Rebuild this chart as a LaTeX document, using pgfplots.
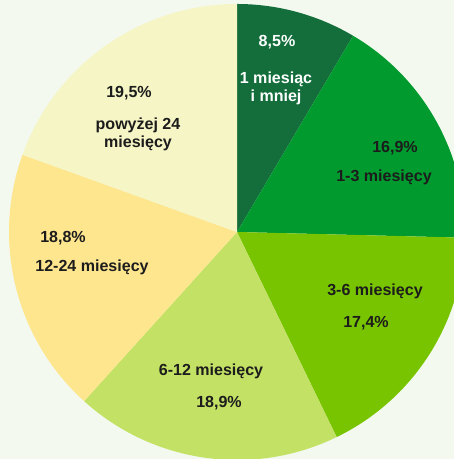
\documentclass[border=0pt]{standalone}
\usepackage{pgfplots}
\usepackage{pgfplotstable}
\pgfplotsset{compat=1.18}
\usepackage{fontspec}
\setmainfont{Liberation Sans}
\definecolor{bg}{HTML}{F3F9EE}
\definecolor{c1}{HTML}{146E3C}
\definecolor{c2}{HTML}{009A2E}
\definecolor{c3}{HTML}{78C400}
\definecolor{c4}{HTML}{C3E164}
\definecolor{c5}{HTML}{FEE68F}
\definecolor{c6}{HTML}{F6F5C5}
\definecolor{txt}{HTML}{1C1C1C}

\pgfplotstableread{
val col
8.5 c1
16.9 c2
17.4 c3
18.9 c4
18.8 c5
19.5 c6
}\piedata

\begin{document}
\begin{tikzpicture}[font=\fontsize{16.1}{18}\selectfont\bfseries]
\begin{axis}[x=1bp, y=1bp, hide axis, clip=true,
  xmin=-237, xmax=217, ymin=-227, ymax=232]
  \fill[bg] (axis cs:-237,-227) rectangle (axis cs:217,232);
  \def\cum{0}
  \pgfplotsforeachungrouped \i in {0,...,5}{%
    \pgfplotstablegetelem{\i}{val}\of\piedata \let\sliceval\pgfplotsretval
    \pgfplotstablegetelem{\i}{col}\of\piedata \let\slicecol\pgfplotsretval
    \pgfmathsetmacro\sa{90-3.6*\cum}%
    \pgfmathsetmacro\sb{90-3.6*(\cum+\sliceval)}%
    \edef\tmp{\noexpand\fill[\slicecol] (axis cs:0,0) -- ++(\sa:228bp) arc[start angle=\sa, end angle=\sb, radius=228bp] -- cycle;}%
    \tmp
    \pgfmathsetmacro\cum{\cum+\sliceval}%
  }
  \node[white] at (axis cs:40,190) {8,5\%};
  \node[white, align=center] at (axis cs:39,144) {1 miesiąc\\i mniej};
  \node[txt] at (axis cs:158,84) {16,9\%};
  \node[txt] at (axis cs:147,55) {1-3 miesięcy};
  \node[txt] at (axis cs:138,-59) {3-6 miesięcy};
  \node[txt] at (axis cs:129,-91) {17,4\%};
  \node[txt] at (axis cs:-26,-139) {6-12 miesięcy};
  \node[txt] at (axis cs:-18,-171) {18,9\%};
  \node[txt] at (axis cs:-174,-6) {18,8\%};
  \node[txt] at (axis cs:-145,-35) {12-24 miesięcy};
  \node[txt] at (axis cs:-108,139) {19,5\%};
  \node[txt, align=center] at (axis cs:-99,98) {powyżej 24\\miesięcy};
\end{axis}
\pgfresetboundingbox
\useasboundingbox (current axis.south west) rectangle (current axis.north east);
\end{tikzpicture}
\end{document}
